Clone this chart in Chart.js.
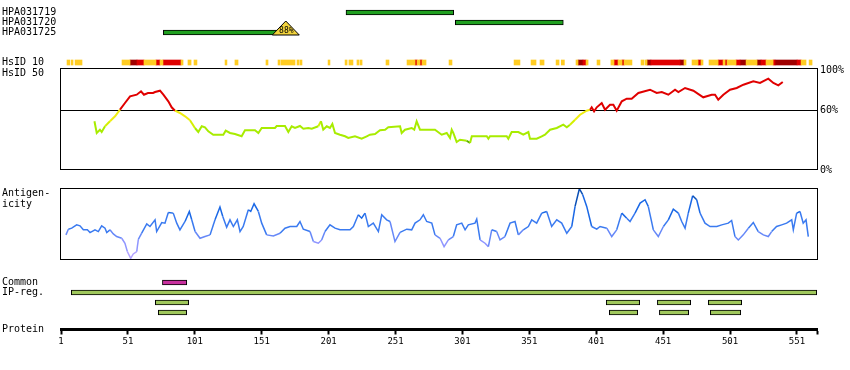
<!DOCTYPE html>
<html>
<head>
<meta charset="utf-8">
<script src="https://cdn.jsdelivr.net/npm/chart.js@4.4.1/dist/chart.umd.min.js"></script>
<style>
  html, body { margin: 0; padding: 0; background: #fff; }
  #wrap { position: relative; width: 850px; height: 370px; overflow: hidden;
          font-family: 'DejaVu Sans Mono', monospace; font-size: 10px; color: #000; }
  #wrap canvas { position: absolute; left: 0; }
  .lbl { position: absolute; left: 2px; line-height: 11px; white-space: pre; }
</style>
</head>
<body>
<div id="wrap">
  <canvas id="abChart" width="850" height="44" style="top:0px"></canvas>
  <canvas id="hsid10Chart" width="850" height="24" style="top:50px"></canvas>
  <canvas id="hsid50Chart" width="850" height="122" style="top:58px"></canvas>
  <canvas id="antigenChart" width="850" height="90" style="top:180px"></canvas>
  <canvas id="ipChart" width="850" height="56" style="top:270px"></canvas>
  <canvas id="proteinChart" width="850" height="50" style="top:310px"></canvas>
  <div class="lbl" style="top:67px">HsID 50</div>
  <div class="lbl" style="top:187px">Antigen-<br>icity</div>
  <div class="lbl" style="top:323px">Protein</div>
</div>
<script>
// protein axis
const proteinLength = 566;
const proteinTicks = [1, 51, 101, 151, 201, 251, 301, 351, 401, 451, 501, 551];

// antibodies (residue ranges)
const antibodyNames = ['HPA031719', 'HPA031720', 'HPA031725'];
const antibodyStart = [214, 295.7, 77.5];
const antibodyEnd = [294.5, 376.4, 162.2];
const antibodyScore = [null, null, 88];
const antibodyScoreAt = [null, null, 169];

// HsID 10 strip segments [from, to]
const hsid10Yellow = [[5.5,7.5],[8.5,10],[11.5,16.7],[46.6,52.6],[63,72],[75,77.2],[90.7,92.2],[95.9,98.2],
  [100.4,102.6],[123.6,125],[131,133.3],[154.2,155.7],[163.2,164.7],[165.4,175.9],[177.4,178.9],[179.6,181.1],
  [200.6,202],[213.3,214.8],[216.2,219.2],[222.2,223.7],[224.5,226],[243.9,246.1],[259.6,265.6],[267.1,269.3],
  [270.8,273.8],[291,293.2],[339.6,344],[352.3,356],[359,362],[371,373.2],[374.9,377.2],[385.9,387.4],
  [393.4,394.9],[401.6,403.8],[412,414.3],[417.3,420.3],[421.8,427.7],[434.5,436.7],[437.5,439],[466.6,468.1],
  [472.6,477.1],[479.3,480.8],[485.3,492.1],[495.8,497.3],[498.8,505.5],[513,521.2],[527.9,533.2],
  [554.1,557.8],[560.1,562.3]];
const hsid10Red = [[57.8,63],[72,75],[77.2,90.7],[265.6,267.1],[269.3,270.8],[391.1,393.4],[414.3,417.3],
  [420.3,421.8],[441.9,463.6],[477.1,479.3],[492.1,495.8],[497.3,498.8],[505.5,508.5],[524.2,527.9],
  [533.2,534.6],[551.1,554.1]];
const hsid10DarkRed = [[52.6,57.8],[387.4,391.1],[439,441.9],[463.6,466.6],[508.5,513],[521.2,524.2],[534.6,551.1]];

// HsID 50 conservation (%)
const conservationPos = [26,27.7,30.1,31.4,33.9,37.6,41.4,45.1,48.8,52.6,57.6,60.8,63,66,69.8,71.3,75,77.5,81.2,
  83.7,86.2,89.9,93.7,97.4,101.1,103.6,106.2,108.6,111.1,114.8,122.3,124.1,127.3,131,136,138.5,146,148.5,151,
  160.9,162.2,168.4,170.9,173.4,175.9,179.6,182.1,185.8,188.4,193.3,195.3,197,199.6,202,203.8,205.8,209.5,
  213.3,215.7,220.7,225.7,229.5,231.9,235.7,239.4,243.2,245.6,254.4,255.6,258.1,263.1,265,266.8,269.3,280.5,
  285.5,289.3,291.7,293,294.2,296.7,299.2,304.2,306.7,308,319.2,320.4,321.6,334.1,335.3,337.8,342.8,346.5,
  350.3,351.5,356.5,360.3,362.7,366.5,371.5,376.4,379,381.4,385.2,388.9,393.9,396.4,397.6,399.4,401.4,405.1,
  407.6,411.3,413.8,416.3,420.1,423.8,427.5,432.5,441.2,446.2,450,454.9,459.9,462.4,467.4,473.6,481,487.3,
  489.8,492.2,496,501,506,511,518.4,523.4,529.6,533.4,537.1,540.4];
const conservationPct = [48.7,37,40.3,38,43.7,48.7,53.7,60.3,67,73.7,75.3,78.7,75.3,77,77,78,79.3,75.3,68.7,
  62.7,59.3,57,53.7,49.7,42,38,43.7,42.7,38.7,35.3,35.3,39.3,37,36,33.7,39.7,39.7,37,42,
  42,44,44,38,43.7,42,44,41.3,42,41.3,43.7,48.7,40.3,43.7,42,46,37,35.3,
  33.7,32,33.7,31.3,33.7,35.3,36,39.7,40.3,42.7,43.7,37,40.3,42,40.3,48.7,40.3,40.3,
  35.3,37,32,40.3,37,28,30.3,29.3,27,33.7,33.7,31.3,33.7,33.7,31.3,38,38,35.3,
  38,31.3,31.3,33.7,35.3,40.3,42,45.3,42.7,45.3,50.3,55.3,59.3,60.3,62.7,58.7,62.7,67,
  60.3,65.3,65.3,59.3,68.7,71.3,71.3,77,80.3,77,78,75.3,80.3,78,82,79.3,72.7,75.3,
  75.3,70.3,75.3,80.3,82,85.3,88.7,87,91.3,87,84.7,88];
const conservationTicks = [0, 60, 100];

// antigenicity profile
const antigenPos = [4.7,6.5,9,12.7,15.2,17.7,20.7,22.7,26.4,28.9,31.4,33.9,35.2,37.6,40.1,42.6,46.4,48.8,50.6,
  53.1,55,57.6,58.8,61.3,65.1,67.5,71.3,72.5,76.3,78.7,81.2,84.9,87.5,89.9,93.7,96.9,98.7,101.2,104.9,108.6,
  112.4,116.1,119.8,121.9,124.8,127.3,129.8,132.8,134.8,137.2,141,142.8,145.3,148.5,151,154.7,159.7,164.7,
  168.4,172.2,177.2,179.6,182.1,187.1,189.6,193.3,195.8,198.3,202,205.8,209.5,217,219.5,223.2,225.7,228.2,
  230.7,234.4,238.2,240.7,244.4,246.9,250.6,254.4,259.4,263.1,265.6,269.3,271.8,274.3,278.1,280.5,284.3,
  287.3,290.5,294.2,296.7,300.5,303,305.4,310.4,311.7,314.2,317.9,320.4,322.9,326.6,329.1,332.8,336.6,340.3,
  342.8,346.5,350.3,352.8,356.5,360.3,364,367.7,371.5,375.2,379,382.7,385.2,388.4,390.9,393.9,397.6,401.4,
  403.9,408.9,412.6,416.3,420.1,423.8,426.3,430,433.8,437.5,439.9,443.7,447.4,451.2,454.9,458.6,462.4,464.9,
  467.4,469.8,473.1,476.1,478.6,482.3,486.1,491.1,494.8,499.7,502.2,504.7,507.2,510.9,514.7,518.4,522.1,
  525.9,529.6,532.1,535.8,539.6,543.3,547.1,548.3,550.8,553.3,555.7,557.8,559.5];
const antigenVal = [34.9,42.8,44.2,48.8,47.4,41.9,41.9,38.1,41.9,39.5,47.4,44.2,38.1,41.9,36.3,32.6,30.2,23.3,11.6,
  2.3,8.4,11.6,28.8,37.2,50.2,46.5,55.8,39.5,52,51.2,66,65.1,51.2,41.9,53.5,67.4,55.8,39.5,30.2,32.6,
  34.9,55.8,73.5,60.5,45.6,55.8,46.5,55.8,39.5,46.5,69.8,67.4,78.1,67.4,51.2,34.9,33.5,37.2,
  44.2,46.5,46.5,53.5,42.8,39.5,25.6,23.3,27.9,39.5,48.8,44.2,41.9,41.9,46.5,62.8,58.1,65.1,
  46.5,51.2,39.5,62.8,55.8,53.5,25.6,38.4,42.8,41.9,51.2,55.8,62.8,53.5,51.2,34.9,30.2,
  18.6,27.9,32.6,48.8,51.2,41.9,48.8,51.2,56.7,27.9,23.3,18.6,41.9,39.5,27.9,32.6,51.2,53.5,
  34.9,41.9,46.5,55.8,51.2,65.1,67.4,46.5,55.8,51.2,37.2,46.5,74.4,99,90.7,74.4,46.5,42.8,
  46.5,44.2,32.6,41.9,65.1,58.1,53.5,65.1,79.1,83.7,74.4,41.9,32.6,46.5,55.8,70.7,65.1,53.5,
  44.2,65.1,89.3,83.7,65.1,51.2,46.5,46.5,48.8,51.2,54.9,32.6,27.9,34.9,44.2,52.1,39.5,
  34.9,32.6,39.5,46.5,48.8,51.2,55.8,41.9,65.1,67.4,51.2,55.8,32.6];

// common / IP regions
const ipRowKeys = ['common', 'ipreg', 'ipreg2', 'ipreg3'];
const ipRowTitles = ['Common', 'IP-reg.', '', ''];
const commonRegions = [[76.8, 95]];
const ipRegions = [
  [[8.7, 565.8]],
  [[71.5, 96.4], [408.5, 433.5], [446.7, 471.6], [484.8, 509.7]],
  [[73.7, 94.9], [410.8, 432], [448.2, 470.1], [486.3, 509]]
];

document.addEventListener('DOMContentLoaded', () => {
    Chart.defaults.font.family = "'DejaVu Sans Mono', monospace";
    Chart.defaults.font.size = 10;
    Chart.defaults.color = '#000';

    const xResidue = { type: 'linear', min: 1, max: proteinLength, display: false };

    function baseOptions(padding) {
        return {
            responsive: false,
            animation: false,
            events: [],
            layout: { padding },
            plugins: { legend: { display: false }, tooltip: { enabled: false } }
        };
    }

    // left-hand row titles, aligned to the left edge of the canvas
    function rowAxis(labels, titles) {
        return {
            type: 'category',
            labels,
            position: 'left',
            grid: { display: false },
            border: { display: false },
            ticks: { autoSkip: false, crossAlign: 'far', padding: 0, callback: (v, i) => titles[i] },
            afterFit: scale => { scale.width = 59; }
        };
    }

    const panelBox = {
        id: 'panelBox',
        afterDraw(chart) {
            const { ctx, chartArea: a } = chart;
            ctx.save();
            ctx.strokeStyle = '#000';
            ctx.lineWidth = 1;
            ctx.strokeRect(a.left - 0.5, a.top + 0.5, a.right - a.left + 1, a.bottom - a.top - 1);
            ctx.restore();
        }
    };

    const scoreMarker = {
        id: 'scoreMarker',
        afterDatasetsDraw(chart) {
            const { ctx, scales: { x, y } } = chart;
            antibodyNames.forEach((name, i) => {
                if (antibodyScore[i] == null) return;
                const cx = x.getPixelForValue(antibodyScoreAt[i]);
                const base = y.getPixelForValue(i) + 2.5;
                ctx.save();
                ctx.beginPath();
                ctx.moveTo(cx - 13.5, base);
                ctx.lineTo(cx, base - 14);
                ctx.lineTo(cx + 13.5, base);
                ctx.closePath();
                ctx.fillStyle = '#f2d33c';
                ctx.fill();
                ctx.strokeStyle = '#000';
                ctx.lineWidth = 1;
                ctx.stroke();
                ctx.fillStyle = '#000';
                ctx.font = "8px 'DejaVu Sans Mono'";
                ctx.textAlign = 'center';
                ctx.textBaseline = 'middle';
                ctx.fillText(antibodyScore[i] + '%', cx + 0.5, base - 4);
                ctx.restore();
            });
        }
    };

    function conservationColor(v) {
        if (v >= 60) return '#e00000';
        if (v >= 50) return '#f0ee10';
        if (v >= 45) return '#d4f000';
        if (v >= 29) return '#a8ec00';
        return '#5fb300';
    }

    function antigenColor(v) {
        if (v >= 85) return '#0a4fb5';
        if (v >= 60) return '#1a68e6';
        if (v >= 40) return '#3a7af0';
        if (v >= 28) return '#6688f8';
        if (v >= 15) return '#8f95ff';
        return '#b3a3ff';
    }

    function renderAntibodies() {
        new Chart(document.getElementById('abChart'), {
            type: 'bar',
            data: {
                labels: antibodyNames,
                datasets: [{
                    data: antibodyStart.map((s, i) => [s, antibodyEnd[i]]),
                    backgroundColor: '#20a020',
                    borderColor: '#000',
                    borderWidth: 1,
                    borderSkipped: false,
                    barThickness: 5
                }]
            },
            options: {
                ...baseOptions({ left: 2, right: 33, top: 7.5, bottom: 6.5 }),
                indexAxis: 'y',
                scales: { x: xResidue, y: rowAxis(antibodyNames, antibodyNames) }
            },
            plugins: [scoreMarker]
        });
    }

    function renderHsid10() {
        const strip = (segs, color) => ({
            data: segs.map(s => ({ x: s, y: 'HsID 10' })),
            backgroundColor: color,
            borderWidth: 0,
            barThickness: 5,
            grouped: false
        });
        new Chart(document.getElementById('hsid10Chart'), {
            type: 'bar',
            data: {
                datasets: [
                    strip(hsid10Yellow, '#ffcc22'),
                    strip(hsid10Red, '#e00000'),
                    strip(hsid10DarkRed, '#a00000')
                ]
            },
            options: {
                ...baseOptions({ left: 2, right: 33, top: 8, bottom: 7 }),
                indexAxis: 'y',
                scales: { x: xResidue, y: rowAxis(['HsID 10'], ['HsID 10']) }
            }
        });
    }

    function renderHsid50() {
        new Chart(document.getElementById('hsid50Chart'), {
            type: 'line',
            data: {
                datasets: [{
                    data: conservationPos.map((p, i) => ({ x: p, y: conservationPct[i] })),
                    borderWidth: 2,
                    pointRadius: 0,
                    tension: 0,
                    borderColor: '#a8ec00',
                    segment: {
                        borderColor: c => conservationColor((c.p0.parsed.y + c.p1.parsed.y) / 2)
                    }
                }]
            },
            options: {
                ...baseOptions({ left: 61, right: 0, top: 10, bottom: 10 }),
                parsing: false,
                scales: {
                    x: xResidue,
                    y: {
                        type: 'linear',
                        position: 'right',
                        min: 0,
                        max: 102,
                        afterBuildTicks: scale => { scale.ticks = conservationTicks.map(v => ({ value: v })); },
                        afterFit: scale => { scale.width = 33; },
                        ticks: { padding: 3, callback: v => v + '%' },
                        grid: {
                            drawTicks: false,
                            lineWidth: 1,
                            color: c => (c.tick && c.tick.value === 60 ? '#000' : 'rgba(0,0,0,0)')
                        },
                        border: { display: false }
                    }
                }
            },
            plugins: [panelBox]
        });
    }

    function renderAntigenicity() {
        new Chart(document.getElementById('antigenChart'), {
            type: 'line',
            data: {
                datasets: [{
                    data: antigenPos.map((p, i) => ({ x: p, y: antigenVal[i] })),
                    borderWidth: 1.5,
                    pointRadius: 0,
                    tension: 0,
                    borderColor: '#3a7af0',
                    segment: {
                        borderColor: c => antigenColor((c.p0.parsed.y + c.p1.parsed.y) / 2)
                    }
                }]
            },
            options: {
                ...baseOptions({ left: 61, right: 33, top: 8, bottom: 10 }),
                parsing: false,
                scales: {
                    x: xResidue,
                    y: { type: 'linear', min: 0, max: 100, display: false }
                }
            },
            plugins: [panelBox]
        });
    }

    function renderRegions() {
        const regionSet = (row, segs, color) => ({
            data: segs.map(s => ({ x: s, y: ipRowKeys[row] })),
            backgroundColor: color,
            borderColor: '#000',
            borderWidth: 1,
            borderSkipped: false,
            barThickness: 5,
            grouped: false
        });
        new Chart(document.getElementById('ipChart'), {
            type: 'bar',
            data: {
                datasets: [
                    regionSet(0, commonRegions, '#c8309e'),
                    ...ipRegions.map((segs, i) => regionSet(i + 1, segs, '#a0c85c'))
                ]
            },
            options: {
                ...baseOptions({ left: 2, right: 33, top: 7.5, bottom: 8.5 }),
                indexAxis: 'y',
                scales: { x: xResidue, y: rowAxis(ipRowKeys, ipRowTitles) }
            }
        });
    }

    function renderProteinAxis() {
        new Chart(document.getElementById('proteinChart'), {
            type: 'scatter',
            data: { datasets: [] },
            options: {
                ...baseOptions({ left: 61, right: 33, top: 0, bottom: 0 }),
                scales: {
                    x: {
                        type: 'linear',
                        position: 'bottom',
                        min: 1,
                        max: proteinLength,
                        afterBuildTicks: scale => {
                            scale.ticks = proteinTicks.concat([proteinLength]).map(v => ({ value: v }));
                        },
                        afterFit: scale => { scale.height = 30.5; },
                        ticks: {
                            autoSkip: false,
                            maxRotation: 0,
                            padding: 2,
                            font: { size: 9 },
                            callback: v => (proteinTicks.includes(v) ? String(v) : '')
                        },
                        grid: {
                            drawOnChartArea: false,
                            drawTicks: true,
                            tickLength: 5,
                            tickWidth: 2,
                            tickColor: '#000'
                        },
                        border: { display: true, color: '#000', width: 3 }
                    },
                    y: { display: false, min: 0, max: 1 }
                }
            }
        });
    }

    renderAntibodies();
    renderHsid10();
    renderHsid50();
    renderAntigenicity();
    renderRegions();
    renderProteinAxis();
});
</script>
</body>
</html>
